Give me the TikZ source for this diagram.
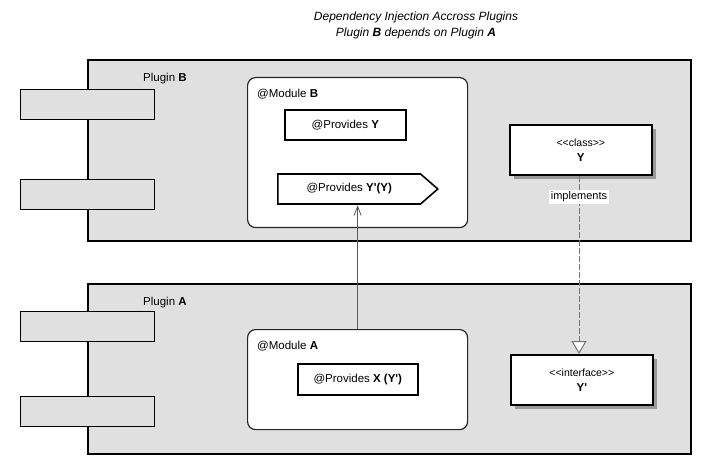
\documentclass[tikz,border=0pt]{standalone}
\usepackage{fontspec}
\setmainfont{Liberation Sans}[Ligatures=TeXOff]
\usetikzlibrary{arrows.meta,shapes.symbols,shadows}
\tikzset{
  plugin/.style={draw=black, line width=1.8pt, fill=black!12, minimum width=603pt, minimum height=181pt, anchor=north west, inner sep=0pt},
  tab/.style={draw=black, line width=1.4pt, fill=black!12, minimum width=134pt, minimum height=30pt, anchor=north west, inner sep=0pt},
  module/.style={draw=black!85, line width=1.2pt, fill=white, rounded corners=8pt, minimum width=220pt, minimum height=150pt, anchor=north west, inner sep=0pt},
  provides/.style={draw=black, line width=1.6pt, fill=white, minimum height=30pt, anchor=north west, inner sep=0pt, font=\fontsize{11.5}{13}\selectfont},
  classbox/.style={draw=black, line width=1.6pt, fill=white, minimum width=142pt, minimum height=50pt, anchor=north west, inner sep=0pt, align=center, font=\fontsize{11.5}{15}\selectfont,
    drop shadow={shadow xshift=4pt, shadow yshift=-4pt, fill=black!40, opacity=1}},
  lbl/.style={anchor=west, inner sep=0pt, font=\fontsize{11.5}{13}\selectfont},
}
\newcommand\stereotxt[1]{{\fontsize{10.5}{11}\selectfont <{}<#1>{}>}}
\begin{document}
\begin{tikzpicture}[x=1pt,y=-1pt]
\useasboundingbox (0,0) rectangle (710,473);
% title
\node[align=center, inner sep=0pt, font=\fontsize{12}{16}\selectfont\itshape] (title) at (416,25)
  {Dependency Injection Accross Plugins\\Plugin \textbf{B} depends on Plugin \textbf{A}};
% plugin B
\node[plugin] (pb) at (87,59) {};
\node[tab] (pbt1) at (20,89) {};
\node[tab] (pbt2) at (20,179) {};
\node[lbl] (pbl) at (143,79) {Plugin \textbf{B}};
% plugin A
\node[plugin, minimum height=170pt] (pa) at (87,283) {};
\node[tab] (pat1) at (20,311) {};
\node[tab] (pat2) at (20,396) {};
\node[lbl] (pal) at (143,303) {Plugin \textbf{A}};
% module B
\node[module] (mb) at (247,77) {};
\node[lbl] (mbl) at (257,94) {@Module \textbf{B}};
\node[provides, minimum width=121pt] (py) at (284,109) {@Provides \textbf{Y}};
\node[provides, signal, signal to=east, signal pointer angle=82, minimum width=160pt, anchor=west] (pyy) at (277,189) {@Provides \textbf{Y'(Y)}};
% module A
\node[module, minimum height=100pt] (ma) at (247,329) {};
\node[lbl] (mal) at (257,346) {@Module \textbf{A}};
\node[provides, minimum width=120pt, minimum height=31pt] (px) at (297,363) {@Provides \textbf{X (Y')}};
% class & interface
\node[classbox] (cy) at (509,124) {\stereotxt{class}\\\textbf{Y}};
\node[classbox] (iy) at (510,354) {\stereotxt{interface}\\\textbf{Y'}};
% connectors
\draw[black!65, line width=1pt, -{Straight Barb[length=9pt,width=7pt,line width=0.8pt]}, shorten >=0.5pt] (ma.north) -- (ma.north |- pyy.south);
\draw[black!55, line width=1pt, dash pattern=on 6pt off 2pt, -{Triangle[open,length=13pt,width=15pt,line width=1pt,fill=white]}] (cy.south -| 579,0) -- node[pos=0.12, fill=white, text=black, inner sep=1.5pt, font=\fontsize{11}{12}\selectfont] (impl) {implements} (iy.north -| 579,0);
\end{tikzpicture}
\end{document}
